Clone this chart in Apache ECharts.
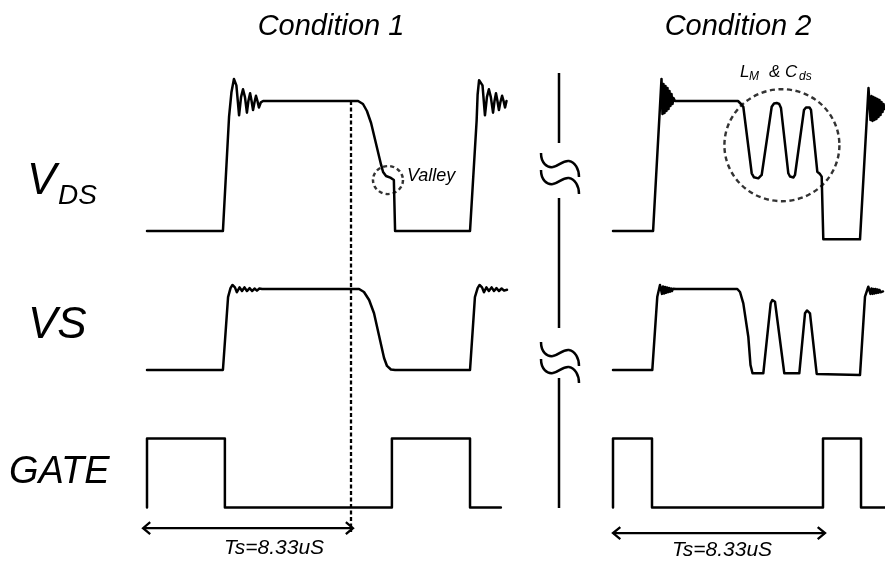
<!DOCTYPE html>
<html><head><meta charset="utf-8">
<script src="https://cdn.jsdelivr.net/npm/echarts@6/dist/echarts.min.js"></script>
<style>html,body{margin:0;padding:0;background:#fff}#c{width:885px;height:563px}</style>
</head><body><div id="c"></div>
<script>
// ---- data: time in microseconds, amplitude normalised (0 = low, 1 = plateau) ----
const vdsC1 = [[0,0],[3.10,0],[3.35,0.877],[3.45,1.07],[3.55,1.17],[3.65,1.12],[3.76,0.89],[3.84,1.03],[3.92,1.09],[4.00,1.03],[4.08,0.91],[4.14,1.0],[4.21,1.06],[4.27,1.0],[4.33,0.93],[4.39,0.99],[4.45,1.04],[4.51,1.0],[4.57,0.95],[4.65,0.99],[4.74,1.0],[8.62,1.0],[8.82,0.977],[8.98,0.923],[9.15,0.831],[9.56,0.508],[9.64,0.454],[9.76,0.423],[9.96,0.408],[10.08,0.392],[10.13,0],[13.19,0],[13.46,0.85],[13.50,1.05],[13.56,1.16],[13.70,1.12],[13.80,0.89],[13.88,1.03],[13.96,1.09],[14.04,1.03],[14.13,0.91],[14.19,1.0],[14.25,1.06],[14.31,1.0],[14.37,0.93],[14.43,0.99],[14.50,1.04],[14.56,1.0],[14.62,0.95],[14.68,1.0]];
const vsC1 = [[0,0],[3.10,0],[3.31,0.90],[3.41,1.01],[3.49,1.05],[3.59,1.02],[3.67,0.96],[3.78,1.02],[3.88,0.975],[3.98,1.02],[4.08,0.975],[4.19,1.01],[4.29,0.975],[4.39,1.006],[4.49,0.98],[4.59,1.006],[4.70,1.0],[8.66,1.0],[8.86,0.963],[9.07,0.864],[9.27,0.70],[9.68,0.148],[9.80,0.05],[9.96,0.006],[10.13,0],[13.19,0],[13.39,0.90],[13.50,1.01],[13.58,1.05],[13.68,1.02],[13.76,0.96],[13.86,1.02],[13.96,0.975],[14.07,1.02],[14.17,0.975],[14.27,1.01],[14.37,0.975],[14.48,1.006],[14.58,0.98],[14.70,0.99]];
const gateC1 = [[0,0],[0,1],[3.18,1],[3.18,0],[10.0,0],[10.0,1],[13.19,1],[13.19,0],[14.45,0]];
const vdsC2 = [[0,0],[1.59,0],[1.924,1.17],[1.963,0.90],[2.003,1.131],[2.043,0.908],[2.083,1.115],[2.122,0.923],[2.162,1.10],[2.202,0.938],[2.241,1.077],[2.281,0.962],[2.320,1.054],[2.360,0.977],[2.400,1.023],[2.459,1.0],[4.958,1.0],[5.077,0.977],[5.169,0.956],[5.502,0.444],[5.593,0.413],[5.764,0.405],[5.898,0.431],[6.295,0.956],[6.386,0.981],[6.493,0.985],[6.592,0.977],[6.664,0.946],[6.954,0.444],[7.021,0.419],[7.088,0.41],[7.160,0.412],[7.219,0.431],[7.576,0.931],[7.655,0.95],[7.723,0.954],[7.794,0.95],[7.854,0.931],[8.104,0.456],[8.211,0.438],[8.278,0.418],[8.342,-0.064],[9.798,-0.064],[10.135,1.10],[10.214,0.854],[10.254,1.038],[10.294,0.846],[10.333,1.031],[10.373,0.854],[10.413,1.023],[10.452,0.862],[10.492,1.015],[10.532,0.877],[10.571,1.008],[10.611,0.892],[10.651,0.992],[10.690,0.915],[10.730,0.977],[10.770,0.938]];
const vsC2 = [[0,0],[1.559,0],[1.757,0.905],[1.864,1.049],[1.904,1.043],[1.944,0.94],[1.983,1.031],[2.023,0.945],[2.063,1.025],[2.102,0.952],[2.142,1.019],[2.182,0.96],[2.221,1.012],[2.261,0.967],[2.301,1.006],[2.340,0.975],[2.380,1.003],[2.420,0.985],[2.499,1.0],[4.931,1.0],[5.038,0.963],[5.169,0.823],[5.367,0.411],[5.454,0.062],[5.534,-0.041],[5.962,-0.041],[6.255,0.823],[6.319,0.864],[6.374,0.87],[6.426,0.843],[6.795,-0.041],[7.390,-0.041],[7.616,0.70],[7.695,0.735],[7.755,0.732],[7.814,0.70],[8.080,-0.049],[9.798,-0.062],[9.996,0.905],[10.127,1.028],[10.175,1.012],[10.214,0.94],[10.254,1.006],[10.294,0.94],[10.333,1.0],[10.373,0.945],[10.413,1.0],[10.452,0.95],[10.492,0.994],[10.532,0.955],[10.571,0.988],[10.611,0.96],[10.651,0.981],[10.710,0.97]];
const gateC2 = [[0,0],[0,1],[1.547,1],[1.547,0],[8.33,0],[8.33,1],[9.838,1],[9.838,0],[10.79,0]];
const periodUs = 8.33;
const periodLabel = 'Ts=8.33uS';
const conditionLabels = ['Condition 1', 'Condition 2'];
const rowLabels = ['VDS', 'VS', 'GATE'];
// annotation positions in data units
const arrowC1 = [[-0.16,-0.30],[8.41,-0.30]];
const arrowC2 = [[0,-0.37],[8.41,-0.37]];
const valleyMark = [9.84, 0.392];
const ringMark = [6.70, 0.66];

// ---- layout ----
const cols = [{x0:147, k:24.49, tmin:-0.5, tmax:15.2},{x0:613, k:25.21, tmin:-0.5, tmax:11.0}];
const rows = [{base:231, s:130},{base:370, s:81},{base:507.5, s:69}];
const YMIN = -0.75, YMAX = 1.4;
const grid = [], xAxis = [], yAxis = [];
rows.forEach((r, ri) => cols.forEach((c, ci) => {
  grid.push({left: c.x0 + c.tmin*c.k, width: (c.tmax-c.tmin)*c.k, top: r.base - YMAX*r.s, height: (YMAX-YMIN)*r.s, outerBoundsMode:'none', containLabel:false});
  xAxis.push({type:'value', gridIndex: ri*2+ci, min:c.tmin, max:c.tmax, show:false});
  yAxis.push({type:'value', gridIndex: ri*2+ci, min:YMIN, max:YMAX, show:false});
}));
const LW = 2.5;
function wave(data, idx, extra) {
  return Object.assign({type:'line', data, xAxisIndex:idx, yAxisIndex:idx, symbol:'none', clip:false, silent:true,
    lineStyle:{color:'#000', width:LW, join:'round', cap:'round'}}, extra||{});
}
function arrowHeads(a, idx) {
  const dt = 0.29, dv = 0.087;
  const [p0, p1] = a;
  return [
    wave([[p0[0]+dt, p0[1]+dv], p0, [p0[0]+dt, p0[1]-dv]], idx, {lineStyle:{color:'#000', width:2.3, join:'miter'}}),
    wave([[p1[0]-dt, p1[1]+dv], p1, [p1[0]-dt, p1[1]-dv]], idx, {lineStyle:{color:'#000', width:2.3, join:'miter'}}),
    wave(a, idx, {lineStyle:{color:'#000', width:2.3}})
  ];
}
const dashedCursor = [[periodUs, 1.0],[periodUs, -2.315]];
const series = [
  wave(vdsC1, 0), wave(vdsC2, 1), wave(vsC1, 2), wave(vsC2, 3), wave(gateC1, 4), wave(gateC2, 5),
  wave(dashedCursor, 0, {lineStyle:{color:'#000', width:2.3, type:[4,2.5]}}),
  ...arrowHeads(arrowC1, 4), ...arrowHeads(arrowC2, 5),
  {type:'scatter', xAxisIndex:0, yAxisIndex:0, data:[valleyMark], symbol:'circle', symbolSize:[30,28], silent:true,
   itemStyle:{color:'rgba(0,0,0,0)', borderColor:'#000', borderWidth:2.4, borderType:[4,3]}},
  {type:'scatter', xAxisIndex:1, yAxisIndex:1, data:[ringMark], symbol:'circle', symbolSize:[115,112], silent:true,
   itemStyle:{color:'rgba(0,0,0,0)', borderColor:'#000', borderWidth:2.4, borderType:[5,3.5]}}
];

const FONT = '"Liberation Sans", Arial, sans-serif';
function txt(text, x, y, size, align) {
  return {type:'text', x, y, silent:true, style:{text, font:`italic ${size}px ${FONT}`, fill:'#000',
    textAlign:align||'left', align:align||'left', textVerticalAlign:'middle', verticalAlign:'middle'}};
}
function bez(x1,y1,c1x,c1y,c2x,c2y,x2,y2) {
  return {type:'bezierCurve', silent:true, shape:{x1, y1, cpx1:c1x, cpy1:c1y, cpx2:c2x, cpy2:c2y, x2, y2},
    style:{stroke:'#000', lineWidth:LW, fill:null}};
}
function brk(x0, y0) {
  return [
    bez(x0, y0, x0, y0+10, x0+6, y0+15, x0+12, y0+14),
    bez(x0+12, y0+14, x0+18, y0+13, x0+22, y0+7, x0+28, y0+8),
    bez(x0+28, y0+8, x0+34, y0+9, x0+38, y0+16, x0+38, y0+24)
  ];
}
function vline(x, y1, y2) {
  return {type:'line', silent:true, shape:{x1:x, y1, x2:x, y2}, style:{stroke:'#000', lineWidth:LW}};
}
const graphic = [
  txt(conditionLabels[0], 331, 27, 29, 'center'),
  txt(conditionLabels[1], 738, 27, 29, 'center'),
  txt(rowLabels[0].charAt(0), 27, 182, 44),
  txt(rowLabels[0].slice(1), 58, 196, 28),
  txt(rowLabels[1], 28, 326, 44),
  txt(rowLabels[2], 9, 472, 38),
  txt('Valley', 407, 176, 18),
  txt('L', 740, 72, 17), txt('M', 749, 77, 12), txt('&', 769, 72, 17), txt('C', 785, 72, 17), txt('ds', 799, 77, 12),
  txt(periodLabel, 274, 548, 21, 'center'),
  txt(periodLabel, 722, 550, 21, 'center'),
  vline(559, 73, 143), vline(559, 198, 328), vline(559, 378, 508),
  ...brk(541, 153), ...brk(541, 170), ...brk(541, 342), ...brk(541, 359)
];

const chart = echarts.init(document.getElementById('c'));
chart.setOption({animation:false, backgroundColor:'#fff', grid, xAxis, yAxis, series, graphic});
</script></body></html>
